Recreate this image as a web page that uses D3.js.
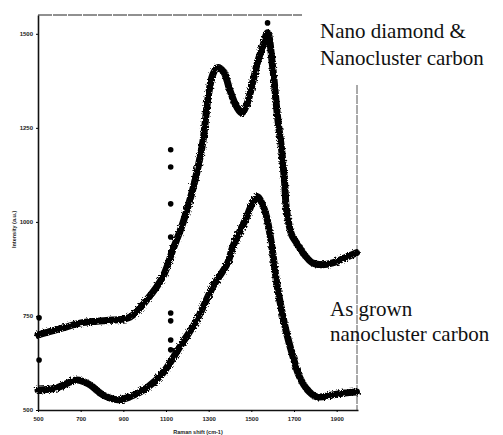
<!DOCTYPE html>
<html>
<head>
<meta charset="utf-8">
<script src="https://cdn.jsdelivr.net/npm/d3@7"></script>
<style>
  body { margin: 0; background: #fff; }
  svg { display: block; }
</style>
</head>
<body>
<svg id="chart" width="503" height="435"></svg>
<script>
// Raman shift (cm-1) and intensity (a.u.)

var xTicks = [500, 700, 900, 1100, 1300, 1500, 1700, 1900];
var yTicks = [500, 750, 1000, 1250, 1500];

// Nano diamond & nanocluster carbon (upper trace)
var diamondShift = [500, 617, 697, 776, 851, 931, 1010, 1085, 1132, 1179, 1225, 1272, 1296, 1319, 1342, 1370, 1399, 1431, 1455, 1478, 1506, 1530, 1553, 1576, 1600, 1623, 1642, 1656, 1665, 1689, 1712, 1750, 1787, 1834, 1881, 1937, 1993];
var diamondInt   = [700, 718, 731, 736, 739, 747, 793, 854, 926, 997, 1085, 1210, 1325, 1391, 1410, 1399, 1351, 1306, 1290, 1311, 1370, 1426, 1466, 1503, 1412, 1279, 1192, 1104, 1032, 966, 944, 912, 891, 886, 891, 904, 918];

// As grown nanocluster carbon (lower trace)
var grownShift = [500, 589, 683, 743, 804, 874, 931, 1010, 1085, 1165, 1244, 1319, 1389, 1413, 1478, 1506, 1530, 1553, 1572, 1595, 1619, 1642, 1665, 1693, 1726, 1764, 1806, 1881, 1937, 1993];
var grownInt   = [553, 559, 580, 567, 540, 527, 535, 559, 598, 668, 739, 827, 891, 934, 1013, 1051, 1067, 1045, 1013, 939, 838, 766, 705, 646, 588, 553, 535, 540, 545, 548];

// stray spikes in the scan
var spikeShift = [1122, 1122, 1122, 1122, 1122, 1122, 1122, 1122, 505, 505, 1576];
var spikeInt   = [1192, 1146, 1048, 960, 758, 737, 686, 660, 745, 633, 1529];

// curve labels
var labelLines = ["Nano diamond &", "Nanocluster carbon", "As grown", "nanocluster carbon"];

var serif = "Liberation Serif";
var sans = "Liberation Sans";

var svg = d3.select("#chart");

var x = d3.scaleLinear().domain([500, 2000]).range([38, 358]);
var y = d3.scaleLinear().domain([500, 1550]).range([410, 15]);

// roughen the traces a little, like a photocopy
var defs = svg.append("defs");
var f = defs.append("filter").attr("id", "rough").attr("x", "-5%").attr("y", "-5%").attr("width", "110%").attr("height", "110%");
f.append("feTurbulence").attr("type", "fractalNoise").attr("baseFrequency", 0.6).attr("numOctaves", 2).attr("seed", 3).attr("result", "n");
f.append("feDisplacementMap").attr("in", "SourceGraphic").attr("in2", "n").attr("scale", 4);

// frame: partial top line and thin right line
svg.append("line")
  .attr("x1", x(500)).attr("x2", 302).attr("y1", y(1550)).attr("y2", y(1550))
  .attr("stroke", "#222").attr("stroke-width", 1.2).attr("stroke-dasharray", "14 1");
svg.append("line")
  .attr("x1", 357).attr("x2", 357).attr("y1", 85).attr("y2", y(500))
  .attr("stroke", "#555").attr("stroke-width", 1).attr("stroke-dasharray", "9 1");

// axes
var gx = svg.append("g")
  .attr("transform", "translate(0," + y(500) + ")")
  .call(d3.axisBottom(x).tickValues(xTicks).tickFormat(d3.format("d")).tickSize(2).tickPadding(5).tickSizeOuter(0));
gx.attr("font-family", null);
gx.select(".domain").attr("stroke", "#111").attr("stroke-width", 1.6);
gx.selectAll(".tick text").attr("font-size", 6).attr("font-weight", "bold").style("font-family", sans).attr("fill", "#222");

var gy = svg.append("g")
  .attr("transform", "translate(" + x(500) + ",0)")
  .call(d3.axisLeft(y).tickValues(yTicks).tickFormat(d3.format("d")).tickSize(2).tickPadding(3).tickSizeOuter(0));
gy.attr("font-family", null);
gy.select(".domain").attr("stroke", "#111").attr("stroke-width", 1.6);
gy.selectAll(".tick text").attr("font-size", 6).attr("font-weight", "bold").style("font-family", sans).attr("fill", "#222");

svg.append("text")
  .attr("transform", "translate(16," + y(980) + ") rotate(-90)")
  .attr("text-anchor", "middle")
  .style("font-family", sans)
  .attr("font-weight", "bold").attr("font-size", 5.5).attr("fill", "#222")
  .text("Intensity (a.u.)");

svg.append("text")
  .attr("x", 198).attr("y", 434)
  .attr("text-anchor", "middle")
  .style("font-family", sans)
  .attr("font-weight", "bold").attr("font-size", 5.5).attr("fill", "#222")
  .text("Raman shift (cm-1)");

// traces
var line = d3.line()
  .x(function(d) { return x(d[0]); })
  .y(function(d) { return y(d[1]); })
  .curve(d3.curveCatmullRom.alpha(0.5));

var diamond = d3.zip(diamondShift, diamondInt);
var grown = d3.zip(grownShift, grownInt);

svg.append("g").attr("filter", "url(#rough)")
  .selectAll("path")
  .data([diamond, grown])
  .enter()
  .append("path")
  .attr("d", line)
  .attr("fill", "none")
  .attr("stroke", "#000")
  .attr("stroke-width", 7)
  .attr("stroke-linejoin", "round")
  .attr("stroke-linecap", "round");

svg.append("g").selectAll("circle")
  .data(d3.zip(spikeShift, spikeInt))
  .enter()
  .append("circle")
  .attr("cx", function(d) { return x(d[0]); })
  .attr("cy", function(d) { return y(d[1]); })
  .attr("r", 2.8)
  .attr("fill", "#000");

// labels, one text element per line
var labelX = [320, 320, 330, 330];
var labelY = [38, 65, 316, 341];
svg.selectAll("text.lab")
  .data(labelLines)
  .enter()
  .append("text")
  .attr("class", "lab")
  .attr("x", function(d, i) { return labelX[i]; })
  .attr("y", function(d, i) { return labelY[i]; })
  .style("font-family", serif)
  .attr("font-size", 21)
  .attr("fill", "#111")
  .text(function(d) { return d; });
</script>
</body>
</html>
